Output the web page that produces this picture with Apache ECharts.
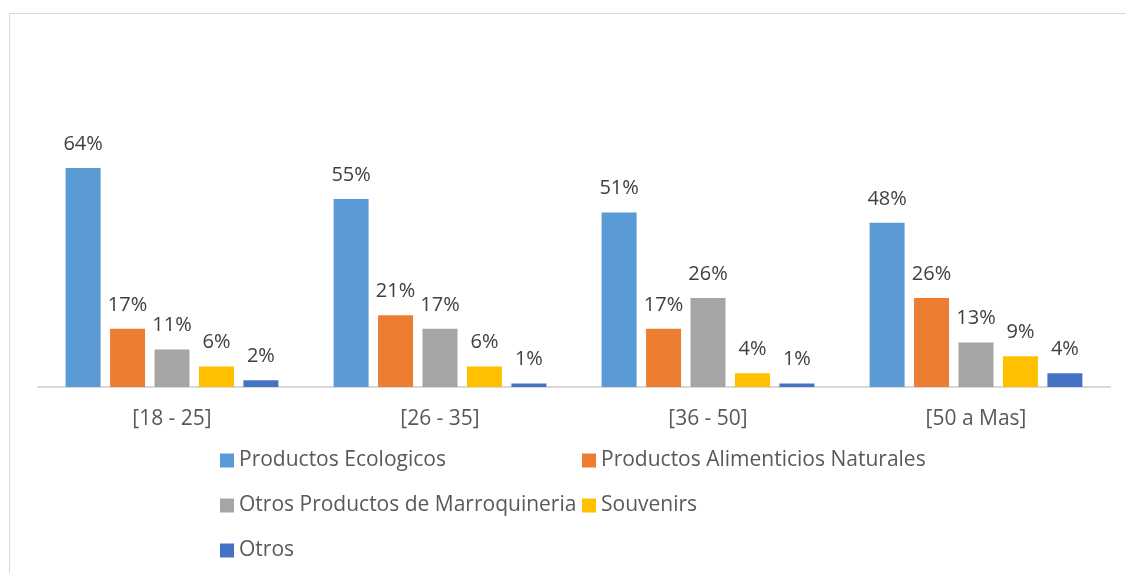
<!DOCTYPE html>
<html>
<head>
<meta charset="utf-8">
<script src="https://cdn.jsdelivr.net/npm/echarts@6/dist/echarts.min.js"></script>
<style>html,body{margin:0;padding:0;background:#fff}#c{width:1126px;height:573px}</style>
</head>
<body>
<div id="c"></div>
<script>
const categories = ['[18 - 25]', '[26 - 35]', '[36 - 50]', '[50 a Mas]'];
const seriesNames = ['Productos Ecologicos', 'Productos Alimenticios Naturales', 'Otros Productos de Marroquineria', 'Souvenirs', 'Otros'];
const ecologicos = [64, 55, 51, 48];
const alimenticios = [17, 21, 17, 26];
const marroquineria = [11, 17, 26, 13];
const souvenirs = [6, 6, 4, 9];
const otros = [2, 1, 1, 4];
const colors = ['#5B9BD5', '#ED7D31', '#A5A5A5', '#FFC000', '#4472C4'];

const FONT = 'Open Sans';
const allValues = [ecologicos, alimenticios, marroquineria, souvenirs, otros];

const chart = echarts.init(document.getElementById('c'), null, {renderer: 'canvas'});
chart.setOption({
  animation: false,
  backgroundColor: '#fff',
  graphic: [{
    type: 'rect', silent: true, z: 100,
    shape: {x: 9.5, y: 13.5, width: 1300, height: 700},
    style: {fill: 'none', stroke: '#d9d9d9', lineWidth: 1}
  }],
  grid: {left: 38, right: 16, top: 113.4, bottom: 186, containLabel: false},
  legend: [{
    orient: 'vertical', left: 220, top: 449, padding: 0, itemWidth: 14, itemHeight: 14, itemGap: 22,
    icon: 'rect', data: [seriesNames[0], seriesNames[2], seriesNames[4]],
    textStyle: {fontFamily: FONT, fontSize: 21, color: '#595959', lineHeight: 23}
  }, {
    orient: 'vertical', left: 582, top: 449, padding: 0, itemWidth: 14, itemHeight: 14, itemGap: 22,
    icon: 'rect', data: [seriesNames[1], seriesNames[3]],
    textStyle: {fontFamily: FONT, fontSize: 21, color: '#595959', lineHeight: 23}
  }],
  xAxis: {
    type: 'category', data: categories,
    axisLine: {lineStyle: {color: '#d9d9d9', width: 2}},
    axisTick: {show: false},
    axisLabel: {fontFamily: FONT, fontSize: 21, color: '#595959', margin: 22}
  },
  yAxis: {
    type: 'value', min: 0, max: 80, show: false,
    splitLine: {show: false}
  },
  series: seriesNames.map((name, i) => ({
    name: name, type: 'bar', data: allValues[i],
    barWidth: 35, barGap: '27%',
    itemStyle: {color: colors[i]},
    label: {show: true, position: 'top', distance: 14, formatter: '{c}%',
      fontFamily: FONT, fontSize: 20, color: '#404040'}
  }))
});
</script>
</body>
</html>
